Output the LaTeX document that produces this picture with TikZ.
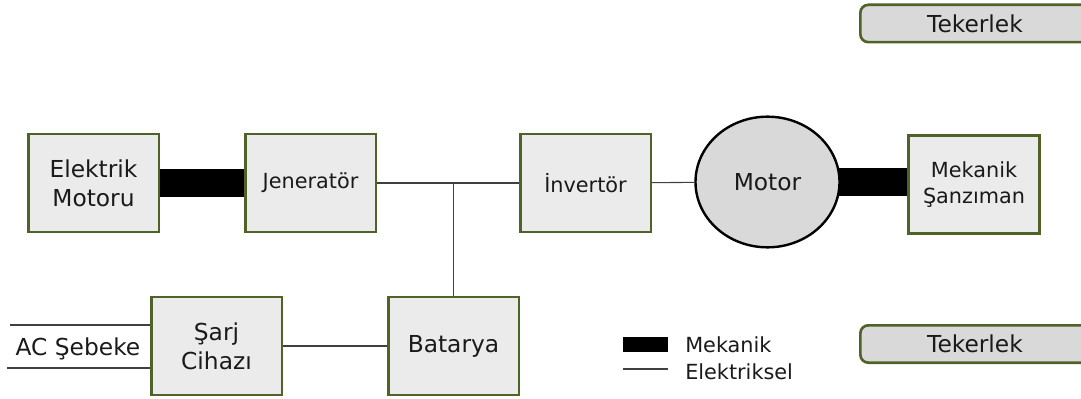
\documentclass[tikz,border=0pt]{standalone}
\usepackage{fontspec}
\setmainfont{DejaVu Sans}
\usetikzlibrary{shapes.geometric}

\definecolor{kutu}{HTML}{EBEBEB}
\definecolor{kenar}{HTML}{4F6228}
\definecolor{gri}{HTML}{D9D9D9}
\definecolor{tel}{HTML}{404040}
\definecolor{yazi}{HTML}{1A1A1A}

\pgfdeclarelayer{arka}
\pgfsetlayers{arka,main}

\begin{document}
\begin{tikzpicture}[x=0.75pt,y=-0.75pt,
    buyuk/.style={font=\fontsize{17.5}{21.5}\selectfont,text=yazi},
    kucuk/.style={font=\fontsize{15.6}{20}\selectfont,text=yazi},
    blok/.style={draw=kenar,line width=2pt,fill=kutu,minimum width=98pt,
      minimum height=73.5pt,inner sep=0pt,align=center,buyuk},
    tekerlek/.style={draw=kenar,line width=2pt,fill=gri,rounded corners=6pt,
      minimum width=172pt,minimum height=28pt,inner sep=0pt,buyuk},
    mil/.style={line width=21pt,black},
    elektrik/.style={tel,line width=0.8pt}]
  \useasboundingbox (0,0) rectangle (1081,399);

  % ust sira
  \node[blok] (elmotor) at (93.5,183) {Elektrik\\Motoru};
  \node[blok,kucuk] (jen) at (310.5,183) {Jeneratör};
  \node[blok,kucuk] (inv) at (585.5,183) {İnvertör};
  \node[ellipse,draw=black,line width=1.8pt,fill=gri,minimum width=108pt,
    minimum height=98pt,inner sep=0pt,buyuk] (motor) at (767.5,182) {Motor};
  \node[blok,kucuk] (sanz) at (974,184.5) {Mekanik\\Şanzıman};

  % alt sira
  \node[blok] (sarj) at (216.5,346) {Şarj\\Cihazı};
  \node[blok] (bat) at (453.5,346) {Batarya};
  \node[buyuk] (sebeke) at (78,349) {AC Şebeke};
  \coordinate (ac1) at (10,325);
  \coordinate (ac2) at (7,368);

  % tekerlekler
  \node[tekerlek] (teker1) at (975,23.5) {Tekerlek};
  \node[tekerlek] (teker2) at (975,344) {Tekerlek};

  % mekanik baglantilar
  \begin{pgfonlayer}{arka}
    \draw[mil] (elmotor.center) -- (jen.center);
    \draw[mil] (motor.center) -- (sanz.center |- motor.center);
  \end{pgfonlayer}

  % elektriksel baglantilar
  \draw[elektrik] (jen) -- (inv);
  \draw[elektrik] (bat) -- (bat |- jen);
  \draw[elektrik] (inv) -- (motor);
  \draw[elektrik] (sarj) -- (bat);
  \draw[elektrik] (ac1) -- (ac1 -| sarj.west);
  \draw[elektrik] (ac2) -- (ac2 -| sarj.west);

  % lejant
  \fill[black] (623,337) rectangle (668,352);
  \draw[elektrik] (623,369) -- (668,369);
  \node[kucuk,anchor=base west,inner sep=0pt] (lejmek) at (685,352) {Mekanik};
  \node[kucuk,anchor=base west,inner sep=0pt] (lejelk) at (685,379) {Elektriksel};
\end{tikzpicture}
\end{document}
